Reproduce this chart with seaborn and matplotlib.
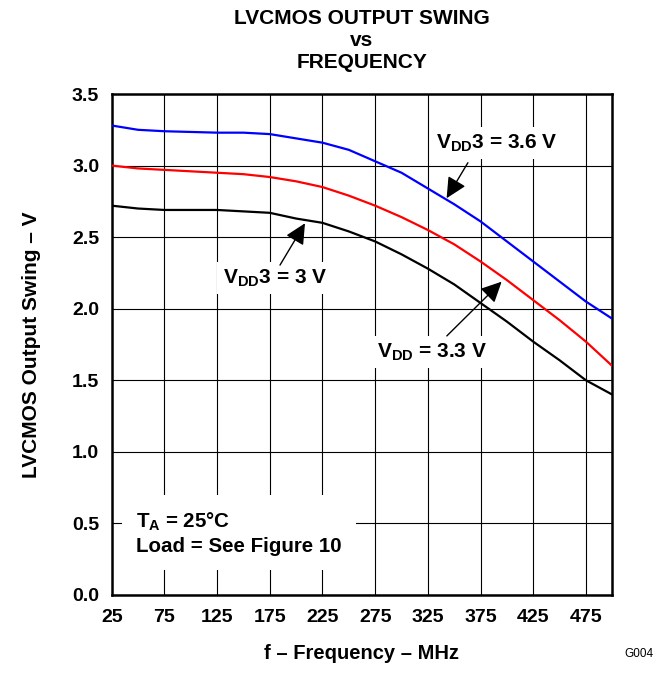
import numpy as np
import pandas as pd
import seaborn as sns
import matplotlib.pyplot as plt

# values
freq = [25, 50, 75, 100, 125, 150, 175, 200, 225, 250, 275, 300, 325, 350, 375, 400, 425, 450, 475, 500]
vdd_36 = [3.28, 3.25, 3.24, 3.235, 3.23, 3.23, 3.22, 3.19, 3.16, 3.11, 3.03, 2.95, 2.84, 2.73, 2.61, 2.47, 2.33, 2.19, 2.05, 1.93]
vdd_33 = [3.00, 2.98, 2.97, 2.96, 2.95, 2.94, 2.92, 2.89, 2.85, 2.79, 2.72, 2.64, 2.55, 2.45, 2.33, 2.20, 2.06, 1.92, 1.77, 1.60]
vdd_30 = [2.72, 2.70, 2.69, 2.69, 2.69, 2.68, 2.67, 2.63, 2.60, 2.54, 2.47, 2.38, 2.28, 2.17, 2.04, 1.91, 1.77, 1.64, 1.50, 1.40]
x_ticks = [25, 75, 125, 175, 225, 275, 325, 375, 425, 475]
y_ticks = [0.0, 0.5, 1.0, 1.5, 2.0, 2.5, 3.0, 3.5]

df = pd.DataFrame({
    'freq': freq * 3,
    'swing': vdd_36 + vdd_33 + vdd_30,
    'supply': ['3.6'] * len(freq) + ['3.3'] * len(freq) + ['3.0'] * len(freq),
})

sns.set_style('white')
plt.rcParams['font.family'] = ['Liberation Sans', 'DejaVu Sans']
plt.rcParams['font.weight'] = 'bold'
plt.rcParams['text.color'] = 'black'
plt.rcParams['axes.labelcolor'] = 'black'
plt.rcParams['xtick.color'] = 'black'
plt.rcParams['ytick.color'] = 'black'
plt.rcParams['mathtext.fontset'] = 'custom'
plt.rcParams['mathtext.rm'] = 'Liberation Sans:bold'
plt.rcParams['mathtext.it'] = 'Liberation Sans:bold'
plt.rcParams['mathtext.bf'] = 'Liberation Sans:bold'
plt.rcParams['mathtext.default'] = 'rm'

fig = plt.figure(figsize=(6.63, 6.73), dpi=100)
ax = fig.add_axes([0.1685, 0.1159, 0.755, 0.7444])

sns.lineplot(data=df, x='freq', y='swing', hue='supply',
             palette={'3.6': '#0000ff', '3.3': '#ff0000', '3.0': '#000000'},
             linewidth=1.6, legend=False, ax=ax, zorder=3)

ax.set_xlim(25, 500)
ax.set_ylim(0, 3.5)
ax.set_xticks(x_ticks)
ax.set_yticks(y_ticks)
ax.set_yticklabels([f'{v:.1f}' for v in y_ticks])
ax.grid(True, color='black', linewidth=0.8)
ax.tick_params(axis='x', length=0, labelsize=14, pad=10)
ax.tick_params(axis='y', length=0, labelsize=14, pad=9)
for lab in ax.get_xticklabels() + ax.get_yticklabels():
    lab.set_fontweight('bold')
for s in ax.spines.values():
    s.set_linewidth(1.8)
    s.set_color('black')

ax.set_xlabel('f \u2013 Frequency \u2013 MHz', fontsize=14.5, fontweight='bold', labelpad=13)
ax.set_ylabel('LVCMOS Output Swing \u2013 V', fontsize=15, fontweight='bold', labelpad=22)

fig.text(0.546, 0.987, 'LVCMOS OUTPUT SWING\nvs\nFREQUENCY', ha='center', va='top',
         fontsize=15, fontweight='bold', linespacing=1.2)
fig.text(0.985, 0.02, 'G004', ha='right', va='bottom', fontsize=8.5, fontweight='normal')

box = dict(facecolor='white', edgecolor='none', pad=4)
arrow = dict(arrowstyle='-|>,head_length=0.45,head_width=0.22', color='black', lw=1.0,
             mutation_scale=28, shrinkA=0, shrinkB=0)

ax.text(390.6, 3.158, r'V$_{DD}$3 = 3.6 V', ha='center', va='center', fontsize=15,
        fontweight='bold', bbox=box, zorder=4)
ax.annotate('', xy=(342.8, 2.772), xytext=(363, 3.02), arrowprops=arrow, zorder=5)

ax.text(180, 2.215, r'V$_{DD}$3 = 3 V', ha='center', va='center', fontsize=15,
        fontweight='bold', bbox=box, zorder=4)
ax.annotate('', xy=(208.4, 2.597), xytext=(184.7, 2.305), arrowprops=arrow, zorder=5)

ax.text(328.8, 1.698, r'V$_{DD}$ = 3.3 V', ha='center', va='center', fontsize=15,
        fontweight='bold', bbox=box, zorder=4)
ax.annotate('', xy=(395, 2.189), xytext=(343, 1.81), arrowprops=arrow, zorder=5)

ax.text(48, 0.43, 'T$_{A}$ = 25\u00b0C\nLoad = See Figure 10', ha='left', va='center',
        fontsize=14.8, fontweight='bold', linespacing=1.3,
        bbox=dict(facecolor='white', edgecolor='none', pad=10), zorder=4)

fig.savefig('out.png', dpi=100)
